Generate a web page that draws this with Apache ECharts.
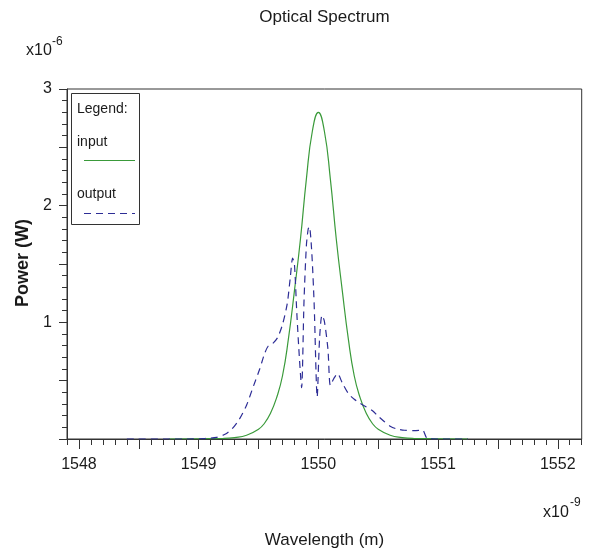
<!DOCTYPE html>
<html>
<head>
<meta charset="utf-8">
<script src="https://cdn.jsdelivr.net/npm/echarts@6/dist/echarts.min.js"></script>
<style>
html,body{margin:0;padding:0;background:#fff;}
#chart{width:590px;height:555px;}
</style>
</head>
<body>
<div id="chart"></div>
<script>
// ---- data (wavelength in nm, power in µW) ----
const wavelengthIn = [1548.75, 1549.0, 1549.2, 1549.3, 1549.4, 1549.5, 1549.55, 1549.6, 1549.65, 1549.7, 1549.75, 1549.8, 1549.85, 1549.9, 1549.95,
  1550.0, 1550.05, 1550.1, 1550.15, 1550.2, 1550.25, 1550.3, 1550.35, 1550.4, 1550.45, 1550.5, 1550.6, 1550.7, 1550.8, 1551.0, 1551.25];
const powerIn = [0, 0.002, 0.0045, 0.012, 0.032, 0.084, 0.135, 0.22, 0.35, 0.54, 0.86, 1.27, 1.71, 2.23, 2.64,
  2.80, 2.64, 2.23, 1.71, 1.27, 0.86, 0.54, 0.35, 0.22, 0.135, 0.084, 0.032, 0.012, 0.0045, 0.002, 0];

const wavelengthOut = [1548.40, 1548.90, 1549.05, 1549.15, 1549.22, 1549.28, 1549.34, 1549.40, 1549.46, 1549.51, 1549.55, 1549.58, 1549.62, 1549.66,
  1549.70, 1549.74, 1549.765, 1549.785, 1549.80, 1549.82, 1549.84, 1549.86, 1549.88, 1549.90, 1549.915, 1549.925, 1549.945, 1549.965, 1549.99,
  1550.01, 1550.03, 1550.05, 1550.08, 1550.10, 1550.13, 1550.16, 1550.20, 1550.25, 1550.30, 1550.35, 1550.40, 1550.45, 1550.50, 1550.55,
  1550.60, 1550.65, 1550.72, 1550.80, 1550.87, 1550.91, 1551.00, 1551.25];
const powerOut = [0, 0, 0.004, 0.014, 0.04, 0.088, 0.17, 0.29, 0.46, 0.60, 0.73, 0.795, 0.82, 0.87,
  0.98, 1.16, 1.38, 1.55, 1.50, 1.08, 0.72, 0.44, 1.18, 1.66, 1.80, 1.82, 1.60, 1.15, 0.36,
  0.86, 1.06, 1.01, 0.77, 0.46, 0.52, 0.56, 0.48, 0.39, 0.34, 0.305, 0.275, 0.245, 0.195, 0.15,
  0.11, 0.088, 0.075, 0.072, 0.076, 0.005, 0, 0];

const seriesNames = ['input', 'output'];
const xTickLabels = [1548, 1549, 1550, 1551, 1552];
const yTickLabels = [1, 2, 3];

// ---- chart ----
const FONT = '"Liberation Sans", Arial, sans-serif';
const TXT = '#1a1a1a';
const AX = '#333';
const GREEN = '#3a9a3a';
const BLUE = '#2d2d96';

const plotL = 67, plotT = 89, plotW = 514.7, plotH = 350;
const xMin = 1547.9, xMax = 1552.2;
const pxPerNm = plotW / (xMax - xMin);

const chart = echarts.init(document.getElementById('chart'), null, {renderer: 'canvas'});

const zip = (a, b) => a.map((v, i) => [v, b[i]]);

chart.setOption({
  animation: false,
  backgroundColor: '#fff',
  grid: [
    {left: plotL, top: plotT, width: plotW, height: plotH, show: true, borderColor: AX, borderWidth: 1, backgroundColor: 'transparent', containLabel: false},
    {left: plotL + (xTickLabels[0] - xMin) * pxPerNm, top: plotT,
     width: (xTickLabels[xTickLabels.length - 1] - xTickLabels[0]) * pxPerNm, height: plotH, show: false, containLabel: false}
  ],
  xAxis: [
    {gridIndex: 0, type: 'value', min: xMin, max: xMax, interval: 0.1, position: 'bottom',
     axisLine: {show: true, onZero: false, lineStyle: {color: AX, width: 1}},
     axisTick: {show: true, length: 6, lineStyle: {color: AX}},
     axisLabel: {show: false}, splitLine: {show: false}},
    {gridIndex: 1, type: 'value', min: xTickLabels[0], max: xTickLabels[xTickLabels.length - 1], interval: 0.5, position: 'bottom',
     axisLine: {show: false, onZero: false},
     axisTick: {show: true, length: 10, lineStyle: {color: AX}},
     axisLabel: {show: true, margin: 18, fontSize: 16, fontFamily: FONT, color: TXT,
       formatter: v => (xTickLabels.indexOf(Math.round(v)) >= 0 && Math.abs(v - Math.round(v)) < 1e-6) ? String(Math.round(v)) : ''},
     splitLine: {show: false}}
  ],
  yAxis: [
    {gridIndex: 0, type: 'value', min: 0, max: 3, interval: 0.1, position: 'left',
     axisLine: {show: true, onZero: false, lineStyle: {color: AX, width: 1}},
     axisTick: {show: true, length: 5, lineStyle: {color: AX}},
     axisLabel: {show: false}, splitLine: {show: false}},
    {gridIndex: 0, type: 'value', min: 0, max: 3, interval: 0.5, position: 'left',
     axisLine: {show: false, onZero: false},
     axisTick: {show: true, length: 8, lineStyle: {color: AX}},
     axisLabel: {show: true, margin: 15, fontSize: 16, fontFamily: FONT, color: TXT,
       formatter: v => (yTickLabels.indexOf(Math.round(v)) >= 0 && Math.abs(v - Math.round(v)) < 1e-6) ? String(Math.round(v)) : ''},
     splitLine: {show: false}},
    {gridIndex: 1, type: 'value', min: 0, max: 3, show: false}
  ],
  series: [
    {name: seriesNames[0], type: 'line', xAxisIndex: 0, yAxisIndex: 0, data: zip(wavelengthIn, powerIn),
     smooth: true, showSymbol: false, symbol: 'none', lineStyle: {color: GREEN, width: 1.2}, z: 2},
    {name: seriesNames[1], type: 'line', xAxisIndex: 0, yAxisIndex: 0, data: zip(wavelengthOut, powerOut),
     smooth: 0.25, showSymbol: false, symbol: 'none', lineStyle: {color: BLUE, width: 1.2, type: [7, 5]}, z: 3}
  ],
  graphic: [
    {type: 'text', x: 324.5, y: 17, style: {text: 'Optical Spectrum', font: '17px ' + FONT, fill: TXT, textAlign: 'center', textVerticalAlign: 'middle'}},
    {type: 'text', x: 26, y: 51, style: {text: 'x10', font: '16px ' + FONT, fill: TXT, textAlign: 'left', textVerticalAlign: 'middle'}},
    {type: 'text', x: 52, y: 42, style: {text: '-6', font: '12px ' + FONT, fill: TXT, textAlign: 'left', textVerticalAlign: 'middle'}},
    {type: 'text', x: 543, y: 513, style: {text: 'x10', font: '16px ' + FONT, fill: TXT, textAlign: 'left', textVerticalAlign: 'middle'}},
    {type: 'text', x: 570, y: 503, style: {text: '-9', font: '12px ' + FONT, fill: TXT, textAlign: 'left', textVerticalAlign: 'middle'}},
    {type: 'text', x: 324.5, y: 540, style: {text: 'Wavelength (m)', font: '17px ' + FONT, fill: TXT, textAlign: 'center', textVerticalAlign: 'middle'}},
    {type: 'text', x: 23, y: 263, rotation: Math.PI / 2, style: {text: 'Power (W)', font: 'bold 18px ' + FONT, fill: TXT, textAlign: 'center', textVerticalAlign: 'middle'}},
    {type: 'group', children: [
      {type: 'rect', shape: {x: 71.5, y: 93.5, width: 68, height: 131}, style: {fill: '#fff', stroke: AX, lineWidth: 1}, z: 10},
      {type: 'text', x: 77, y: 109, style: {text: 'Legend:', font: '14px ' + FONT, fill: TXT, textVerticalAlign: 'middle'}, z: 11},
      {type: 'text', x: 77, y: 142, style: {text: seriesNames[0], font: '14px ' + FONT, fill: TXT, textVerticalAlign: 'middle'}, z: 11},
      {type: 'line', shape: {x1: 84, y1: 160.5, x2: 135, y2: 160.5}, style: {stroke: GREEN, lineWidth: 1.2}, z: 11},
      {type: 'text', x: 77, y: 194, style: {text: seriesNames[1], font: '14px ' + FONT, fill: TXT, textVerticalAlign: 'middle'}, z: 11},
      {type: 'line', shape: {x1: 84, y1: 213.5, x2: 135, y2: 213.5}, style: {stroke: BLUE, lineWidth: 1.2, lineDash: [7, 5]}, z: 11}
    ]}
  ]
});
</script>
</body>
</html>
